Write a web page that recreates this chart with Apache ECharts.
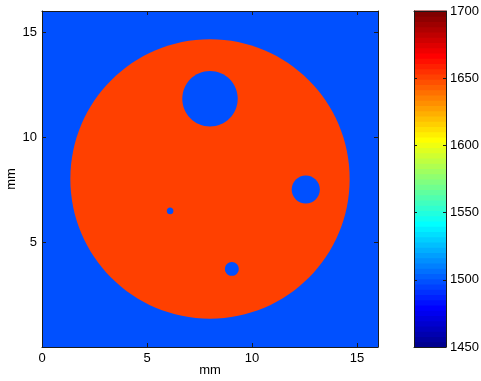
<!DOCTYPE html>
<html>
<head>
<meta charset="utf-8">
<script src="https://cdn.jsdelivr.net/npm/echarts@6/dist/echarts.min.js"></script>
<style>
html,body{margin:0;padding:0;background:#fff;}
#chart{width:481px;height:381px;}
</style>
</head>
<body>
<div id="chart"></div>
<script>
// Image extent (mm)
const xRange = [0, 16];
const yRange = [0, 16];
const xTicks = [0, 5, 10, 15];
const yTicks = [0, 5, 10, 15];
// Background value
const backgroundValue = 1500;
// Circular regions drawn in order: centre x, centre y, radius (mm), value
const shapeX = [8, 8, 12.56, 6.1, 9.04];
const shapeY = [8, 11.82, 7.5, 6.48, 3.72];
const shapeR = [6.65, 1.32, 0.67, 0.16, 0.33];
const shapeValue = [1650, 1500, 1500, 1500, 1500];
// Colour limits and colourbar ticks
const cMin = 1450;
const cMax = 1700;
const cbTicks = [1450, 1500, 1550, 1600, 1650, 1700];

// MATLAB jet(64) colormap
function jetRow(k) { // k: 1..64
  const u = [];
  for (let i = 1; i <= 16; i++) u.push(i / 16);
  for (let i = 0; i < 15; i++) u.push(1);
  for (let i = 16; i >= 1; i--) u.push(i / 16);
  const g = (k >= 9 && k <= 55) ? u[k - 9] : 0;
  const r = (k >= 25) ? u[k - 25] : 0;
  const b = (k <= 39) ? u[k + 7] : 0;
  return 'rgb(' + Math.round(r * 255) + ',' + Math.round(g * 255) + ',' + Math.round(b * 255) + ')';
}
function colorOf(v) {
  let idx = Math.floor((v - cMin) / (cMax - cMin) * 64);
  idx = Math.max(0, Math.min(63, idx));
  return jetRow(idx + 1);
}

const regions = [[xRange[0], yRange[0], xRange[1], yRange[1], backgroundValue, 'rect']];
for (let i = 0; i < shapeX.length; i++) {
  regions.push([shapeX[i], shapeY[i], shapeR[i], 0, shapeValue[i], 'circle']);
}
const bands = [];
for (let k = 0; k < 64; k++) {
  bands.push([cMin + (cMax - cMin) * k / 64, cMin + (cMax - cMin) * (k + 1) / 64, k + 1]);
}

const font = 'Liberation Sans, Arial, Helvetica, sans-serif';
const textColor = '#000';
const axisLine = { show: true, onZero: false, lineStyle: { color: '#1a1a1a', width: 1 } };
const tick = (len) => ({ show: true, inside: true, length: len, lineStyle: { color: '#1a1a1a' } });

const chart = echarts.init(document.getElementById('chart'), null, { renderer: 'canvas' });
chart.setOption({
  animation: false,
  backgroundColor: '#fff',
  grid: [
    { left: 42, top: 11, width: 336, height: 336, show: false, containLabel: false, outerBoundsMode: 'none' },
    { left: 414, top: 11, width: 32, height: 336, show: false, containLabel: false, outerBoundsMode: 'none' }
  ],
  xAxis: [
    { gridIndex: 0, z: 10, type: 'value', min: xRange[0], max: xRange[1], interval: 5, position: 'bottom',
      name: 'mm', nameLocation: 'middle', nameGap: 17, nameMoveOverlap: false,
      nameTextStyle: { fontFamily: font, fontSize: 13, color: textColor },
      axisLine: axisLine, axisTick: tick(4),
      axisLabel: { fontFamily: font, fontSize: 13, color: textColor, margin: 5,
        formatter: v => xTicks.indexOf(v) >= 0 ? String(v) : '' },
      splitLine: { show: false } },
    { gridIndex: 0, z: 10, type: 'value', min: xRange[0], max: xRange[1], interval: 5, position: 'top',
      axisLine: axisLine, axisTick: tick(4),
      axisLabel: { show: false }, splitLine: { show: false } },
    { gridIndex: 1, z: 10, type: 'value', min: 0, max: 1, position: 'bottom',
      axisLine: axisLine, axisTick: { show: false }, axisLabel: { show: false }, splitLine: { show: false } },
    { gridIndex: 1, z: 10, type: 'value', min: 0, max: 1, position: 'top',
      axisLine: axisLine, axisTick: { show: false }, axisLabel: { show: false }, splitLine: { show: false } }
  ],
  yAxis: [
    { gridIndex: 0, z: 10, type: 'value', min: yRange[0], max: yRange[1], interval: 5, position: 'left',
      name: 'mm', nameLocation: 'middle', nameGap: 24, nameRotate: 90, nameMoveOverlap: false,
      nameTextStyle: { fontFamily: font, fontSize: 13, color: textColor },
      axisLine: axisLine, axisTick: tick(4),
      axisLabel: { fontFamily: font, fontSize: 13, color: textColor, margin: 5,
        formatter: v => (yTicks.indexOf(v) >= 0 && v !== 0) ? String(v) : '' },
      splitLine: { show: false } },
    { gridIndex: 0, z: 10, type: 'value', min: yRange[0], max: yRange[1], interval: 5, position: 'right',
      axisLine: axisLine, axisTick: tick(4),
      axisLabel: { show: false }, splitLine: { show: false } },
    { gridIndex: 1, z: 10, type: 'value', min: cMin, max: cMax, interval: 50, position: 'right',
      axisLine: axisLine, axisTick: tick(3),
      axisLabel: { fontFamily: font, fontSize: 13, color: textColor, margin: 4,
        formatter: v => cbTicks.indexOf(v) >= 0 ? String(v) : '' },
      splitLine: { show: false } },
    { gridIndex: 1, z: 10, type: 'value', min: cMin, max: cMax, interval: 50, position: 'left',
      axisLine: axisLine, axisTick: tick(3),
      axisLabel: { show: false }, splitLine: { show: false } }
  ],
  series: [
    {
      type: 'custom', xAxisIndex: 0, yAxisIndex: 0, z: 1,
      data: regions,
      renderItem: function (params, api) {
        const kind = regions[params.dataIndex][5];
        const v = api.value(4);
        const fill = colorOf(v);
        if (kind === 'rect') {
          const p0 = api.coord([api.value(0), api.value(1)]);
          const p1 = api.coord([api.value(2), api.value(3)]);
          return { type: 'rect', shape: { x: Math.min(p0[0], p1[0]), y: Math.min(p0[1], p1[1]),
            width: Math.abs(p1[0] - p0[0]), height: Math.abs(p1[1] - p0[1]) },
            style: { fill: fill }, silent: true };
        }
        const c = api.coord([api.value(0), api.value(1)]);
        const s = api.size([api.value(2), api.value(2)]);
        return { type: 'ellipse', shape: { cx: c[0], cy: c[1], rx: s[0], ry: s[1] },
          style: { fill: fill }, silent: true };
      }
    },
    {
      type: 'custom', xAxisIndex: 2, yAxisIndex: 2, z: 1,
      data: bands,
      renderItem: function (params, api) {
        const p0 = api.coord([0, api.value(0)]);
        const p1 = api.coord([1, api.value(1)]);
        return { type: 'rect', shape: { x: p0[0], y: Math.min(p0[1], p1[1]) - 0.5,
          width: p1[0] - p0[0], height: Math.abs(p1[1] - p0[1]) + 1 },
          style: { fill: jetRow(api.value(2)) }, silent: true };
      }
    }
  ]
});
</script>
</body>
</html>
